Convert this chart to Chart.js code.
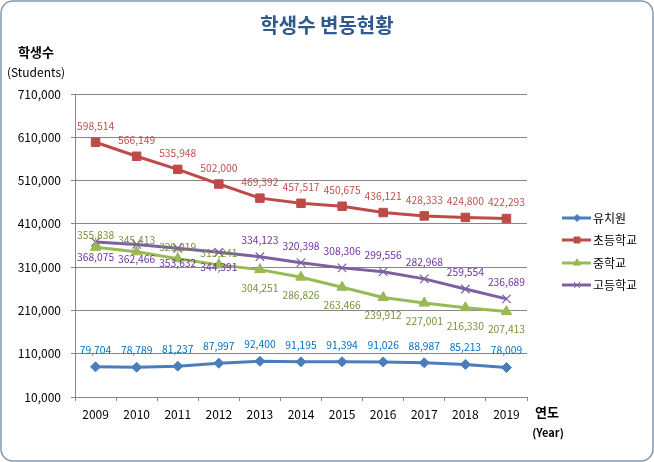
<!DOCTYPE html>
<html>
<head>
<meta charset="utf-8">
<script src="https://cdn.jsdelivr.net/npm/chart.js@4.4.4/dist/chart.umd.min.js"></script>
<style>
  html, body { margin: 0; padding: 0; background: #fff; }
  #wrap { width: 654px; height: 462px; position: relative; }
</style>
</head>
<body>
<div id="wrap"><canvas id="chart" width="654" height="462"></canvas></div>
<script>
const FONT = '"Noto Sans CJK KR", "Noto Sans", sans-serif';

const years = ['2009', '2010', '2011', '2012', '2013', '2014', '2015', '2016', '2017', '2018', '2019'];
const kinder = [79704, 78789, 81237, 87997, 92400, 91195, 91394, 91026, 88987, 85213, 78009];
const elementary = [598514, 566149, 535948, 502000, 469392, 457517, 450675, 436121, 428333, 424800, 422293];
const middle = [355838, 345413, 329219, 315241, 304251, 286826, 263466, 239912, 227001, 216330, 207413];
const high = [368075, 362466, 353632, 344391, 334123, 320398, 308306, 299556, 282968, 259554, 236689];

const yMin = 10000, yMax = 710000, yStep = 100000;

const fmt = v => v.toLocaleString('en-US');

// frame, titles, legend and point labels
const decor = {
  id: 'decor',
  beforeDraw(chart) {
    const ctx = chart.ctx;
    ctx.save();
    ctx.fillStyle = '#fff';
    ctx.fillRect(0, 0, chart.width, chart.height);
    ctx.strokeStyle = '#8497b0';
    ctx.lineWidth = 1.5;
    ctx.beginPath();
    ctx.roundRect(1, 1, chart.width - 2, chart.height - 2, 12);
    ctx.stroke();
    ctx.restore();
  },
  afterDatasetsDraw(chart) {
    const ctx = chart.ctx;
    ctx.save();
    ctx.textAlign = 'center';
    ctx.textBaseline = 'middle';

    ctx.fillStyle = '#2f5b8c';
    ctx.font = 'bold 20px ' + FONT;
    ctx.fillText('학생수 변동현황', 327, 25);

    ctx.fillStyle = '#000';
    ctx.font = 'bold 13px ' + FONT;
    ctx.fillText('학생수', 36, 52);
    ctx.font = '12px ' + FONT;
    ctx.fillText('(Students)', 36, 72);
    ctx.font = 'bold 13px ' + FONT;
    ctx.fillText('연도', 547, 412);
    ctx.font = 'bold 11px ' + FONT;
    ctx.fillText('(Year)', 548, 433);

    // point labels
    ctx.font = '10.3px ' + FONT;
    chart.data.datasets.forEach((ds, di) => {
      const meta = chart.getDatasetMeta(di);
      ctx.fillStyle = ds.labelColor;
      meta.data.forEach((pt, i) => {
        ctx.fillText(fmt(ds.data[i]), pt.x, pt.y + ds.labelOffset(i));
      });
    });

    // legend
    const rows = [218, 240, 263, 285];
    chart.data.datasets.forEach((ds, di) => {
      const y = rows[di];
      ctx.strokeStyle = ds.borderColor;
      ctx.fillStyle = ds.borderColor;
      ctx.lineWidth = 3;
      ctx.beginPath();
      ctx.moveTo(562, y);
      ctx.lineTo(591, y);
      ctx.stroke();
      ctx.lineWidth = 1;
      Chart.helpers.drawPoint(ctx, {
        pointStyle: ds.pointStyle,
        radius: ds.pointRadius * 0.7,
        borderWidth: 1
      }, 577, y);
      ctx.fillStyle = '#000';
      ctx.font = '12px ' + FONT;
      ctx.textAlign = 'left';
      ctx.fillText(ds.label, 593, y);
      ctx.textAlign = 'center';
    });
    ctx.restore();
  }
};

function series(label, data, color, labelColor, style, radius, labelOffset) {
  return {
    label, data,
    borderColor: color,
    backgroundColor: color,
    pointBackgroundColor: color,
    pointBorderColor: color,
    borderWidth: 3,
    pointStyle: style,
    pointRadius: radius,
    pointBorderWidth: style === 'crossRot' ? 1.2 : 1,
    tension: 0,
    labelColor, labelOffset
  };
}

new Chart(document.getElementById('chart'), {
  type: 'line',
  data: {
    labels: years,
    datasets: [
      series('유치원', kinder, '#4a7ebb', '#0070c0', 'rectRot', 5, () => -17),
      series('초등학교', elementary, '#be4b48', '#c0504d', 'rect', 6, () => -16),
      series('중학교', middle, '#98b954', '#76923c', 'triangle', 6, i => i < 4 ? -12 : 18),
      series('고등학교', high, '#7d60a0', '#7030a0', 'crossRot', 6, i => i < 4 ? 15 : -17)
    ]
  },
  options: {
    responsive: false,
    animation: false,
    layout: { padding: { left: 0, right: 127, top: 94, bottom: 35 } },
    plugins: { legend: { display: false }, title: { display: false }, tooltip: { enabled: false } },
    scales: {
      x: {
        offset: true,
        afterFit: s => { s.height = 30; },
        grid: { drawOnChartArea: false, drawTicks: true, tickLength: 4, color: '#868686', offset: true },
        border: { display: true, color: '#868686' },
        ticks: { color: '#000', padding: 6, font: { family: FONT, size: 12 }, maxRotation: 0 }
      },
      y: {
        min: yMin, max: yMax,
        afterFit: s => { s.width = 75; },
        afterBuildTicks: s => {
          s.ticks = [];
          for (let v = yMin; v <= yMax; v += yStep) s.ticks.push({ value: v });
        },
        grid: { color: '#868686', tickLength: 4 },
        border: { display: true, color: '#868686' },
        ticks: { color: '#000', padding: 10, font: { family: FONT, size: 12 }, callback: v => fmt(v) }
      }
    }
  },
  plugins: [decor]
});
</script>
</body>
</html>
